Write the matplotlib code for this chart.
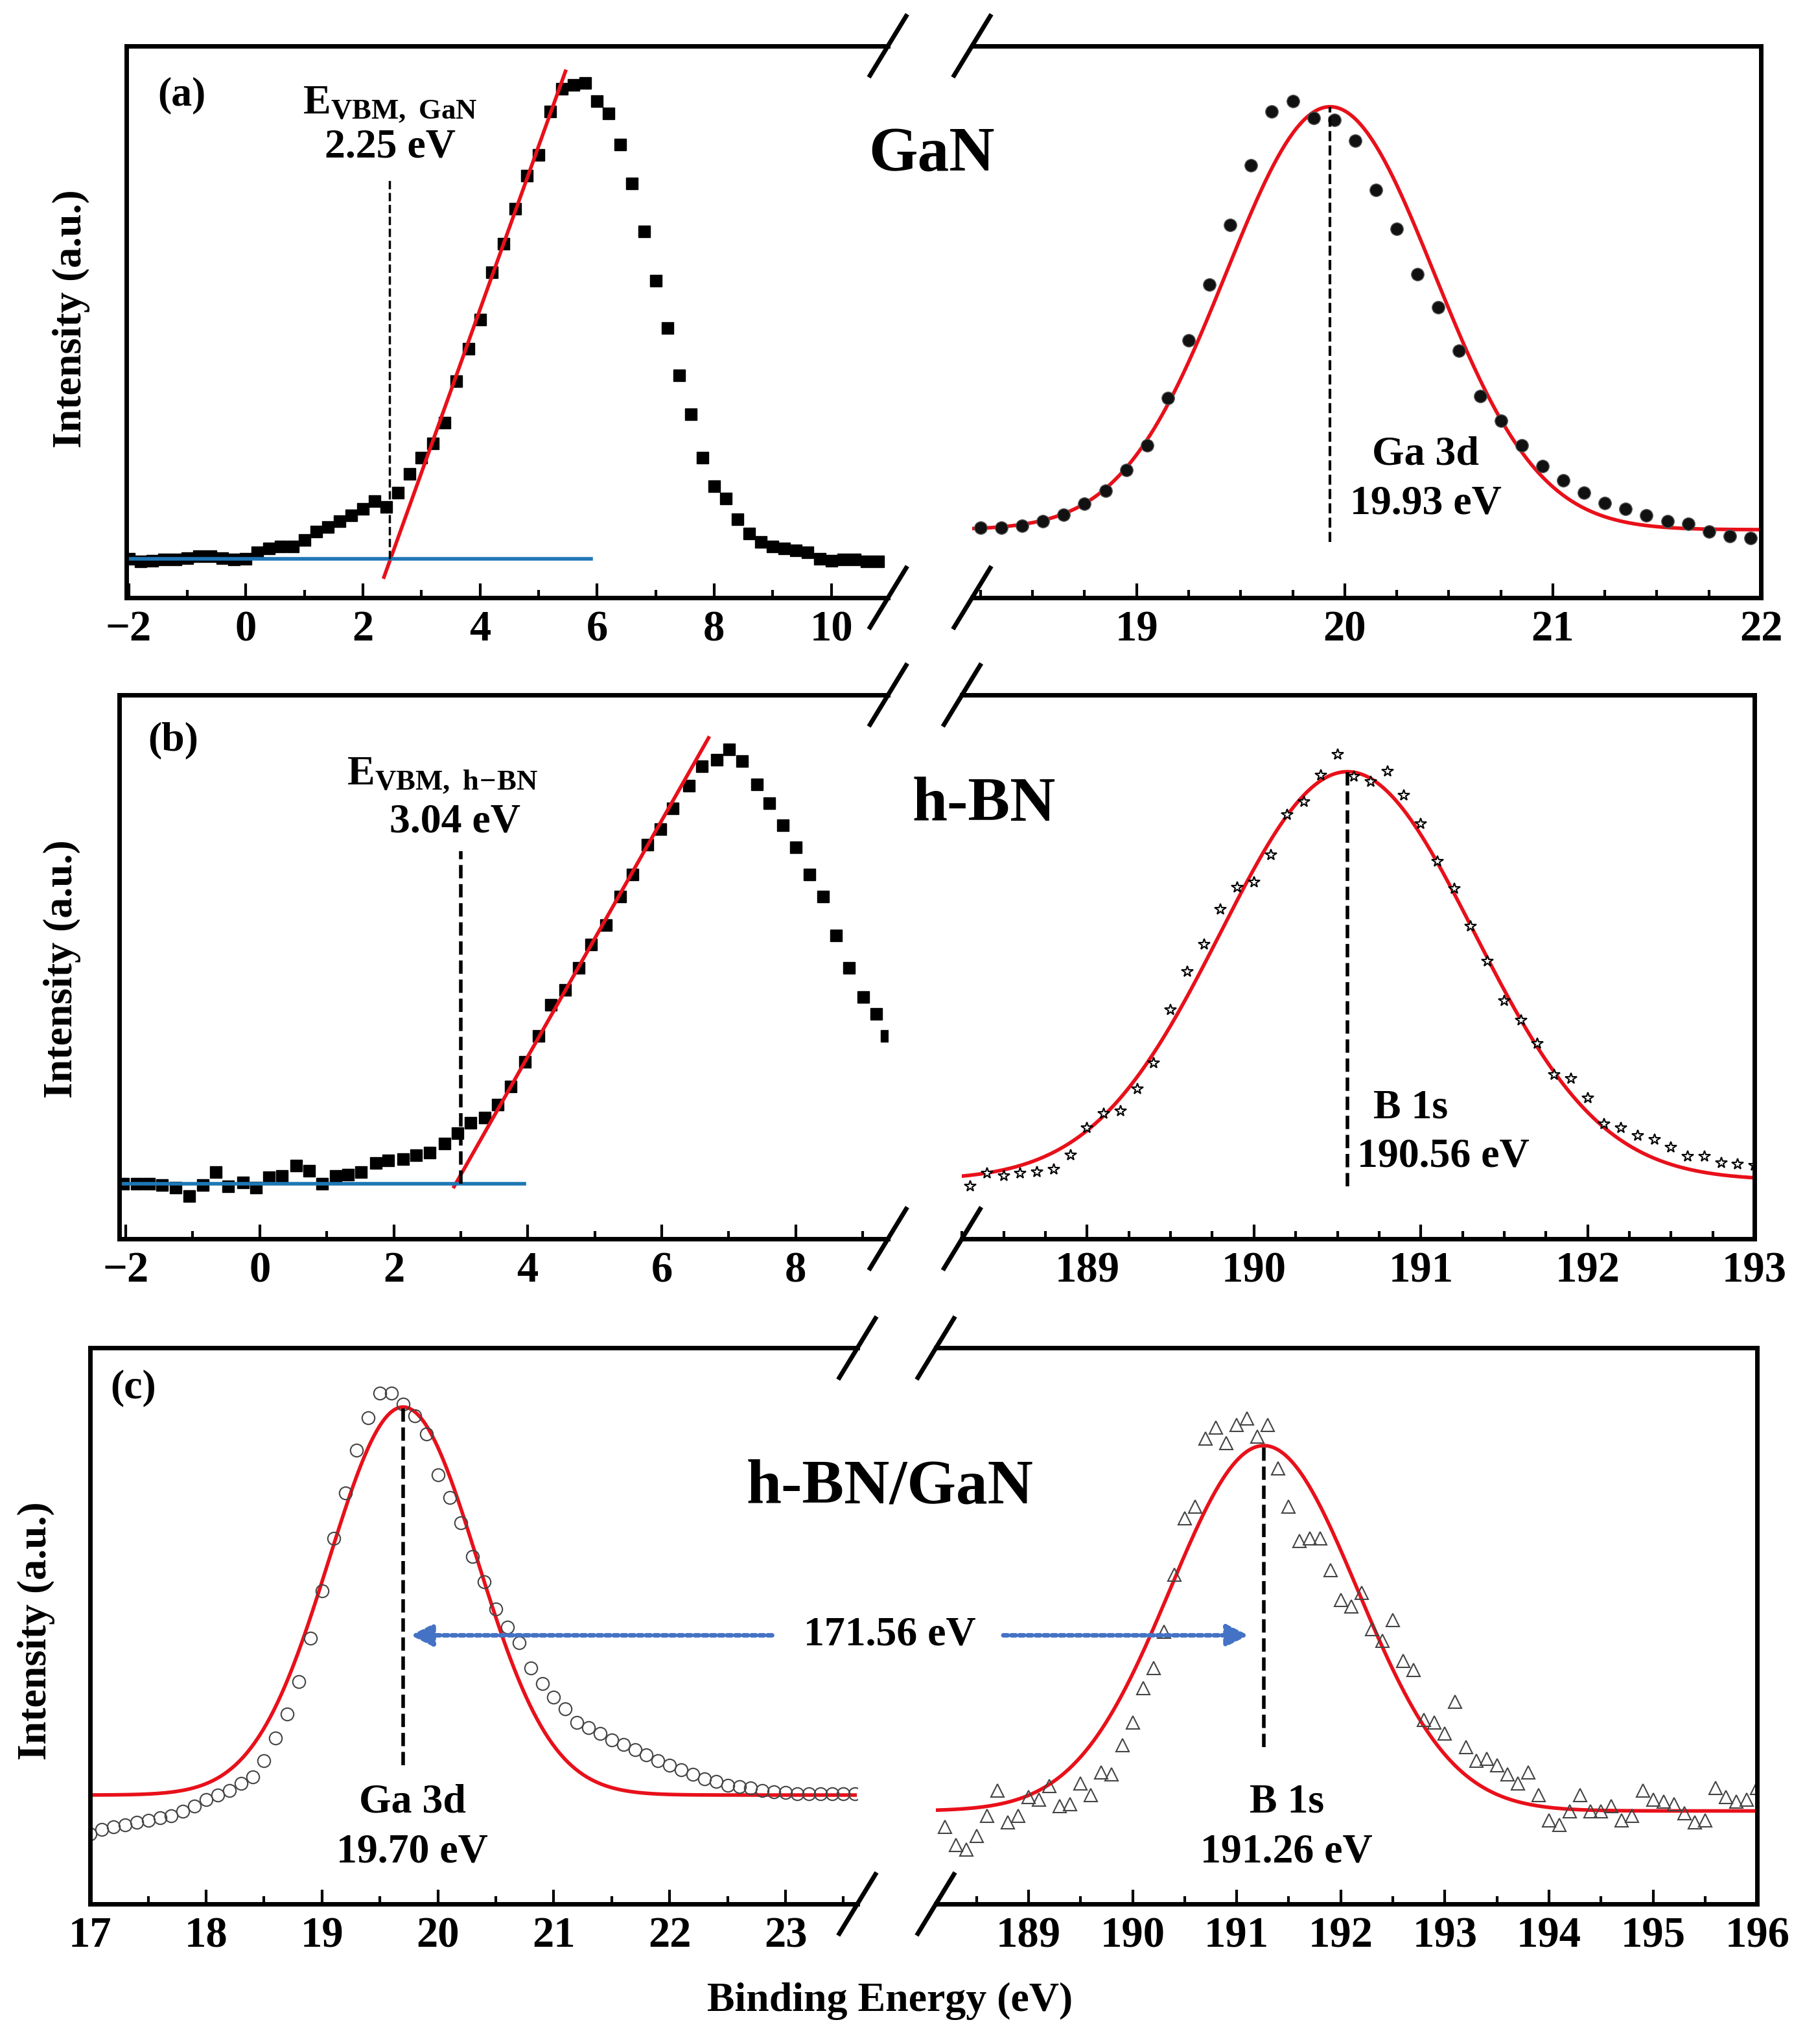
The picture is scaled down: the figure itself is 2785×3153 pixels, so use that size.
import numpy as np
import matplotlib
matplotlib.use("Agg")
import matplotlib.pyplot as plt
from matplotlib.lines import Line2D
from matplotlib.ticker import MultipleLocator

plt.rcParams['font.family'] = ['Liberation Serif', 'DejaVu Serif']
plt.rcParams['font.weight'] = 'bold'
plt.rcParams['mathtext.fontset'] = 'custom'
plt.rcParams['mathtext.rm'] = 'Liberation Serif:bold'
plt.rcParams['mathtext.it'] = 'Liberation Serif:bold'
plt.rcParams['mathtext.bf'] = 'Liberation Serif:bold'

# ---- panel (a): GaN valence band + Ga 3d ----
a_vb_x = np.round(np.arange(-2.0, 10.81, 0.2), 2)
a_vb_y = [95, 88, 90, 92, 93, 96, 100, 100, 96, 92, 95, 110, 120, 125, 125, 140, 160, 172, 185, 200,
          215, 235, 220, 255, 300, 340, 375, 425, 525, 605, 675, 790, 860, 945, 1025, 1075, 1180, 1235,
          1245, 1250, 1205, 1175, 1100, 1005, 890, 770, 655, 540, 445, 340, 270, 240, 190, 155, 135,
          125, 120, 115, 110, 95, 90, 92, 92, 88, 88]
a_vb_x = a_vb_x[:len(a_vb_y)]
a_lin = ([2.36, 5.46], [50, 1278])
a_base = 95
a_ga_y = [170, 170, 175, 185, 202, 228, 260, 310, 370, 485, 625, 760, 905, 1050, 1180, 1205, 1165,
          1160, 1110, 990, 895, 785, 705, 600, 490, 430, 370, 320, 285, 255, 230, 215, 200, 185, 180,
          160, 150, 145]
a_ga_x = 18.25 + 0.1 * np.arange(len(a_ga_y))
a_fit = dict(c=19.93, s=0.50, amp=1027, base=165)

# ---- panel (b): h-BN valence band + B 1s ----
b_vb_x = [-2.04, -1.84, -1.65, -1.46, -1.26, -1.05, -0.85, -0.66, -0.47, -0.25, -0.06, 0.14, 0.33,
          0.54, 0.74, 0.93, 1.13, 1.32, 1.51, 1.73, 1.92, 2.14, 2.33, 2.54, 2.76, 2.95, 3.15, 3.36,
          3.55, 3.75, 3.96, 4.16, 4.35, 4.56, 4.76, 4.95, 5.17, 5.38, 5.57, 5.79, 5.98, 6.17, 6.41,
          6.6, 6.82, 7.01, 7.2, 7.42, 7.61, 7.81, 8.0, 8.21, 8.41, 8.6, 8.8, 9.01, 9.2, 9.36]
b_vb_y = [42, 42, 42, 41, 39, 33, 41, 51, 40, 43, 39, 47, 48, 56, 52, 42, 48, 49, 51, 58, 60, 61,
          64, 66, 73, 81, 89, 93, 103, 117, 136, 156, 180, 191, 208, 226, 241, 263, 280, 303, 315,
          331, 348, 363, 368, 376, 367, 349, 335, 318, 301, 280, 263, 233, 208, 186, 173, 156]
b_lin = ([2.9, 6.7], [40, 385])
b_base = 42
b_b_y = [40, 50, 48, 50, 51, 53, 64, 85, 96, 98, 115, 135, 176, 205, 226, 253, 270, 274, 295, 326,
         336, 356, 372, 355, 351, 359, 341, 319, 290, 269, 240, 213, 183, 168, 150, 126, 123, 108,
         88, 85, 79, 76, 70, 63, 63, 58, 57, 56]
b_b_x = 188.3 + 0.1 * np.arange(len(b_b_y))
b_fit = dict(c=190.56, s=0.76, amp=314, base=45)

# ---- panel (c): h-BN/GaN Ga 3d + B 1s ----
c_ga_y = [155, 165, 170, 175, 180, 185, 190, 195, 205, 215, 230, 240, 250, 265, 280, 315, 365, 418,
          490, 585, 690, 805, 905, 1000, 1072, 1125, 1125, 1102, 1075, 1035, 945, 895, 840, 765, 710,
          650, 610, 575, 520, 485, 455, 430, 400, 388, 375, 362, 352, 340, 328, 315, 305, 295, 285,
          275, 270, 262, 258, 255, 250, 247, 245, 243, 243, 243, 243, 243, 243]
c_ga_x = 17.0 + 0.1 * np.arange(len(c_ga_y))
c_ga_fit = dict(c=19.70, s=0.64, amp=855, base=240)
c_b_y = [170, 130, 120, 150, 195, 250, 180, 195, 235, 230, 260, 215, 220, 265, 240, 290, 285, 350,
         400, 475, 520, 600, 725, 850, 875, 1025, 1050, 1015, 1055, 1070, 1030, 1055, 960, 875, 800,
         805, 805, 735, 670, 655, 685, 605, 580, 625, 535, 515, 405, 400, 375, 445, 345, 315, 320,
         305, 285, 265, 290, 240, 185, 175, 205, 240, 205, 205, 215, 185, 195, 250, 230, 225, 220,
         200, 180, 185, 255, 235, 225, 230, 255]
c_b_x = 188.2 + 0.1 * np.arange(len(c_b_y))
c_b_fit = dict(c=191.26, s=0.90, amp=805, base=205)
c_shift = "171.56 eV"

RED = '#e8101a'
BLUE = '#1f77b4'
ARROW = '#4472c4'
FS_TICK = 48
FS_ANN = 46


def gauss(x, p):
    return p['base'] + p['amp'] * np.exp(-0.5 * ((x - p['c']) / p['s']) ** 2)


def style(ax, side, major, minor):
    for sp in ax.spines.values():
        sp.set_linewidth(5)
    ax.spines[side].set_visible(False)
    ax.xaxis.set_major_locator(MultipleLocator(major))
    ax.xaxis.set_minor_locator(MultipleLocator(minor))
    ax.tick_params(axis='x', which='major', direction='in', length=16, width=3,
                   labelsize=FS_TICK, pad=14)
    ax.tick_params(axis='x', which='minor', direction='in', length=9, width=3)
    ax.set_yticks([])
    for lab in ax.get_xticklabels():
        lab.set_fontweight('bold')


def breaks(fig, axl, axr):
    bl = axl.get_position()
    br = axr.get_position()
    dx, dy = 0.010, 0.0145
    for y in (bl.y0, bl.y1):
        for x in (bl.x1, br.x0):
            fig.add_artist(Line2D([x - dx, x + dx], [y - dy, y + dy], color='k', lw=5,
                                  transform=fig.transFigure))


fig = plt.figure(figsize=(27.85, 31.53), dpi=100)
arrow_kw = dict(arrowstyle='-|>', color=ARROW, lw=5, ls=(0, (1, 0.8)), mutation_scale=50)

# (a)
axl = fig.add_axes([0.070, 0.7076, 0.422, 0.270])
axr = fig.add_axes([0.5386, 0.7076, 0.437, 0.270])
axl.plot(a_vb_x, a_vb_y, 's', color='k', ms=13)
axl.plot(a_lin[0], a_lin[1], color=RED, lw=4)
axl.plot([-2.04, 5.9], [a_base, a_base], color=BLUE, lw=4)
axl.plot([2.46, 2.46], [a_base, 1020], 'k--', lw=2.5)
axl.set_xlim(-2.04, 10.97)
axl.set_ylim(0, 1340)
axl.text(0.073, 0.91, '(a)', transform=axl.transAxes, fontsize=FS_ANN, ha='center', va='center')
axl.text(0.346, 0.894, r'E$_{\mathrm{VBM,\ GaN}}$', transform=axl.transAxes, fontsize=FS_ANN,
         ha='center', va='center')
axl.text(0.346, 0.816, '2.25 eV', transform=axl.transAxes, fontsize=FS_ANN, ha='center', va='center')
xf = np.linspace(18.2, 22.0, 400)
axr.plot(xf, gauss(xf, a_fit), color=RED, lw=4)
axr.plot(a_ga_x, a_ga_y, 'o', color='#111111', mec='#555555', ms=14)
axr.plot([a_fit['c'], a_fit['c']], [a_fit['base'] - 30, a_fit['base'] + a_fit['amp']], 'k--', lw=3)
axr.set_xlim(18.21, 22.0)
axr.set_ylim(0, 1340)
axr.text(0.575, 0.259, 'Ga 3d', transform=axr.transAxes, fontsize=FS_ANN, ha='center', va='center')
axr.text(0.575, 0.17, '19.93 eV', transform=axr.transAxes, fontsize=FS_ANN, ha='center', va='center')
style(axl, 'right', 2, 1)
style(axr, 'left', 1, 0.25)
breaks(fig, axl, axr)
fig.text(0.516, 0.924, 'GaN', fontsize=70, ha='center', va='center')
fig.text(0.0396, 0.844, 'Intensity (a.u.)', fontsize=FS_ANN, rotation=90, ha='center', va='center')

# (b)
axl = fig.add_axes([0.066, 0.394, 0.426, 0.266])
axr = fig.add_axes([0.533, 0.394, 0.439, 0.266])
axl.plot(b_vb_x, b_vb_y, 's', color='k', ms=13)
axl.plot(b_lin[0], b_lin[1], color=RED, lw=4)
axl.plot([-2.1, 3.95], [b_base, b_base], color=BLUE, lw=4)
axl.plot([3.0, 3.0], [b_base, 298], 'k--', lw=4)
axl.set_xlim(-2.1, 9.38)
axl.set_ylim(0, 418)
axl.text(0.07, 0.916, '(b)', transform=axl.transAxes, fontsize=FS_ANN, ha='center', va='center')
axl.text(0.42, 0.852, r'E$_{\mathrm{VBM,\ h\!-\!BN}}$', transform=axl.transAxes, fontsize=FS_ANN,
         ha='center', va='center')
axl.text(0.437, 0.766, '3.04 eV', transform=axl.transAxes, fontsize=FS_ANN, ha='center', va='center')
xf = np.linspace(188.25, 193.0, 400)
axr.plot(xf, gauss(xf, b_fit), color=RED, lw=4)
axr.plot(b_b_x, b_b_y, '*', color='white', mec='k', mew=1.5, ms=13)
axr.plot([b_fit['c'], b_fit['c']], [b_fit['base'] - 5, b_fit['base'] + b_fit['amp']], 'k--', lw=4)
axr.set_xlim(188.25, 193.0)
axr.set_ylim(0, 418)
axr.text(0.566, 0.24, 'B 1s', transform=axr.transAxes, fontsize=FS_ANN, ha='center', va='center')
axr.text(0.607, 0.15, '190.56 eV', transform=axr.transAxes, fontsize=FS_ANN, ha='center', va='center')
style(axl, 'right', 2, 1)
style(axr, 'left', 1, 0.25)
breaks(fig, axl, axr)
fig.text(0.545, 0.606, 'h-BN', fontsize=70, ha='center', va='center')
fig.text(0.0346, 0.526, 'Intensity (a.u.)', fontsize=FS_ANN, rotation=90, ha='center', va='center')

# (c)
axl = fig.add_axes([0.050, 0.0685, 0.425, 0.272])
axr = fig.add_axes([0.5185, 0.0685, 0.455, 0.272])
xf = np.linspace(17.0, 23.6, 400)
axl.plot(xf, gauss(xf, c_ga_fit), color=RED, lw=4)
axl.plot(c_ga_x, c_ga_y, 'o', mfc='none', mec='#444444', mew=1.5, ms=14)
axl.plot([c_ga_fit['c'], c_ga_fit['c']], [305, c_ga_fit['base'] + c_ga_fit['amp']], 'k--', lw=4)
axl.annotate('', xy=(19.75, 592), xytext=(22.9, 592), arrowprops=arrow_kw)
axl.set_xlim(17.0, 23.62)
axl.set_ylim(0, 1225)
axl.text(0.056, 0.928, '(c)', transform=axl.transAxes, fontsize=FS_ANN, ha='center', va='center')
axl.text(0.42, 0.182, 'Ga 3d', transform=axl.transAxes, fontsize=FS_ANN, ha='center', va='center')
axl.text(0.42, 0.093, '19.70 eV', transform=axl.transAxes, fontsize=FS_ANN, ha='center', va='center')
xf = np.linspace(188.1, 196.0, 400)
axr.plot(xf, gauss(xf, c_b_fit), color=RED, lw=4)
axr.plot(c_b_x, c_b_y, '^', mfc='none', mec='#444444', mew=1.5, ms=14, clip_on=True)
axr.plot([c_b_fit['c'], c_b_fit['c']], [345, c_b_fit['base'] + c_b_fit['amp']], 'k--', lw=4)
axr.annotate('', xy=(191.13, 592), xytext=(188.74, 592), arrowprops=arrow_kw)
axr.set_xlim(188.11, 196.0)
axr.set_ylim(0, 1225)
axr.text(0.427, 0.182, 'B 1s', transform=axr.transAxes, fontsize=FS_ANN, ha='center', va='center')
axr.text(0.427, 0.093, '191.26 eV', transform=axr.transAxes, fontsize=FS_ANN, ha='center', va='center')
style(axl, 'right', 1, 0.5)
style(axr, 'left', 1, 0.5)
breaks(fig, axl, axr)
fig.text(0.493, 0.272, 'h-BN/GaN', fontsize=70, ha='center', va='center')
fig.text(0.493, 0.20, c_shift, fontsize=FS_ANN, ha='center', va='center')
fig.text(0.020, 0.202, 'Intensity (a.u.)', fontsize=FS_ANN, rotation=90, ha='center', va='center')
fig.text(0.493, 0.021, 'Binding Energy (eV)', fontsize=FS_ANN, ha='center', va='center')

fig.savefig('out.png', dpi=100)
